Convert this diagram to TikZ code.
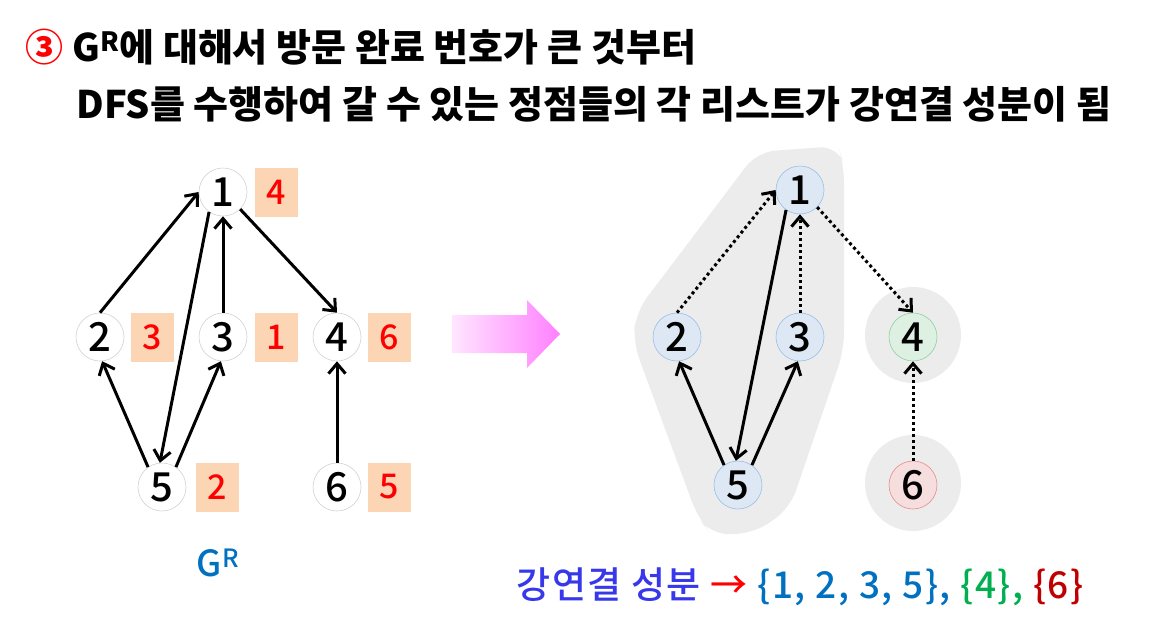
\documentclass[tikz,border=0pt]{standalone}
\usepackage{fontspec}
\setmainfont{Noto Sans CJK KR}
\newfontfamily\krmed[LetterSpace=4]{Noto Sans CJK KR Medium}
\newfontfamily\digitfont{Noto Sans CJK KR Medium}
\usetikzlibrary{arrows.meta,positioning}
\definecolor{peach}{RGB}{252,213,181}
\definecolor{numred}{RGB}{255,0,0}
\definecolor{sccblue}{RGB}{0,112,192}
\definecolor{sccgreen}{RGB}{0,176,80}
\definecolor{sccred}{RGB}{192,0,0}
\definecolor{kblue}{RGB}{55,55,235}
\definecolor{hull}{RGB}{236,236,236}
\definecolor{bin}{RGB}{222,232,244}
\definecolor{bout}{RGB}{150,192,232}
\definecolor{gin}{RGB}{222,240,226}
\definecolor{gout}{RGB}{140,210,160}
\definecolor{rin}{RGB}{246,222,222}
\definecolor{rout}{RGB}{232,140,140}
\pgfdeclareradialshading{ballW}{\pgfpointorigin}{color(0bp)=(white); color(32bp)=(white); color(50bp)=(gray!55)}
\pgfdeclareradialshading{ballB}{\pgfpointorigin}{color(0bp)=(bin); color(34bp)=(bin); color(50bp)=(bout)}
\pgfdeclareradialshading{ballG}{\pgfpointorigin}{color(0bp)=(gin); color(34bp)=(gin); color(50bp)=(gout)}
\pgfdeclareradialshading{ballR}{\pgfpointorigin}{color(0bp)=(rin); color(34bp)=(rin); color(50bp)=(rout)}

\begin{document}
\begin{tikzpicture}[x=1pt,y=-1pt,
  vtx/.style={circle, minimum size=48pt, inner sep=0pt, draw=gray!35,
              line width=0.6pt, font=\digitfont\fontsize{40}{40}\selectfont},
  vw/.style={vtx, shading=ballW},
  vb/.style={vtx, shading=ballB, draw=bout},
  vg/.style={vtx, shading=ballG, draw=gout},
  vr/.style={vtx, shading=ballR, draw=rout},
  numbox/.style={rectangle, fill=peach, minimum width=43pt, minimum height=49pt,
                 inner sep=0pt, text=numred, font=\digitfont\fontsize{34}{34}\selectfont},
  link/.style={-{Straight Barb[length=10pt,width=17pt]}, line width=3pt},
  dotlink/.style={link, dash pattern=on 3pt off 3pt},
  title/.style={anchor=base west, font=\bfseries\fontsize{38}{38}\selectfont}
]
\fill[white] (0,0) rectangle (1168,640);
\useasboundingbox (0,0) rectangle (1168,640);
% title
\node[title] (t1) at (22,61) {{\color{red}③} G\textsuperscript{R}에 대해서 방문 완료 번호가 큰 것부터};
\node[title] (t2) at (73,118) {DFS를 수행하여 갈 수 있는 정점들의 각 리스트가 강연결 성분이 됨};
% left graph G^R
\node[vw] (l1) at (223,192) {1};
\node[vw] (l2) at (100,337) {2};
\node[vw] (l3) at (223,337) {3};
\node[vw] (l4) at (337,337) {4};
\node[vw] (l5) at (162,487) {5};
\node[vw] (l6) at (337,487) {6};
\node[numbox, right=7pt of l1] (f1) {4};
\node[numbox, right=6pt of l2] (f2) {3};
\node[numbox, right=7pt of l3] (f3) {1};
\node[numbox, right=6pt of l4] (f4) {6};
\node[numbox, right=9pt of l5] (f5) {2};
\node[numbox, right=6pt of l6] (f6) {5};
\draw[link] (l2.north) -- (l1.west);
\draw[link] (l1.235) -- (l5.95);
\draw[link] (l3.north) -- (l1.south);
\draw[link] (l1.-45) -- (l4.north);
\draw[link] (l5.125) -- (l2.-85);
\draw[link] (l5.55) -- (l3.-95);
\draw[link] (l6.north) -- (l4.south);
\node[text=sccblue, font=\digitfont\fontsize{36}{36}\selectfont] (gr) at (218,563) {G\textsuperscript{R}};
% transition arrow
\shade[left color=magenta!10, right color=magenta!50]
  (452,315) -- (527,315) -- (527,300) -- (560,334) -- (527,368) -- (527,353) -- (452,353) -- cycle;
% components
\fill[hull, rounded corners=18pt] (757,152) -- (838,146) -- (844,165) -- (844,350)
  -- (790,508) -- (755,533) -- (712,535) -- (698,518) -- (633,342) -- (636,312) -- cycle;
\fill[hull] (913,335) circle (48);
\fill[hull] (913,483) circle (48);
\node[vb] (r1) at (800,190) {1};
\node[vb] (r2) at (677,337) {2};
\node[vb] (r3) at (800,337) {3};
\node[vg] (r4) at (913,337) {4};
\node[vb] (r5) at (738,485) {5};
\node[vr] (r6) at (913,485) {6};
\draw[dotlink] (r2.north) -- (r1.west);
\draw[link] (r1.235) -- (r5.95);
\draw[dotlink] (r3.north) -- (r1.south);
\draw[dotlink] (r1.-45) -- (r4.north);
\draw[link] (r5.125) -- (r2.-85);
\draw[link] (r5.55) -- (r3.-95);
\draw[dotlink] (r6.north) -- (r4.south);
\node[anchor=base west, font=\krmed\fontsize{37}{37}\selectfont] (scc) at (513,598)
  {\color{kblue}강연결 성분 \color{numred}→ \color{sccblue}\{1, 2, 3, 5\}, \color{sccgreen}\{4\}, \color{sccred}\{6\}};
\end{tikzpicture}
\end{document}
